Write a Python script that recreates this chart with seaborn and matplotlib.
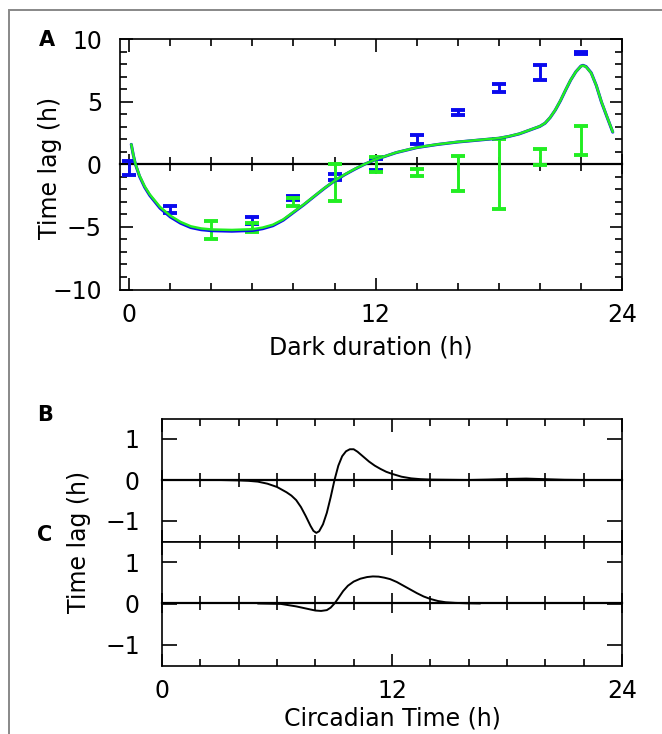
"""Time lag vs dark duration (A) and circadian time (B, C)."""

import matplotlib
matplotlib.use("Agg")
import matplotlib.pyplot as plt
from matplotlib.patches import Rectangle
from matplotlib.ticker import MultipleLocator
import numpy as np
import seaborn as sns

sns.set_theme(style="ticks")
plt.rcParams["font.family"] = ["DejaVu Sans"]
plt.rcParams.update({"text.color": "black", "axes.labelcolor": "black",
                     "xtick.color": "black", "ytick.color": "black"})

# ---- panel A: measured time lags (error bars, low/high) ----
blue_x = [0, 2, 6, 8, 10, 12, 14, 16, 18, 20, 22]
blue_lo = [-0.88, -3.88, -4.75, -2.87, -1.25, -0.48, 1.65, 3.96, 5.77, 6.78, 8.83]
blue_hi = [0.28, -3.3, -4.19, -2.55, -0.74, 0.43, 2.37, 4.36, 6.46, 7.93, 9.0]

green_x = [4, 6, 8, 10, 12, 14, 16, 18, 20, 22]
green_lo = [-5.98, -5.42, -3.3, -2.93, -0.59, -0.93, -2.1, -3.56, -0.08, 0.72]
green_hi = [-4.49, -4.65, -2.7, 0.05, 0.59, -0.35, 0.64, 2.07, 1.25, 3.07]

# ---- panel A: model curves ----
model_x = [0.1, 0.2, 0.3, 0.5, 0.75, 1.0, 1.5, 2.0, 2.5, 3.0, 3.5, 4.0, 5.0,
           6.0, 6.5, 7.0, 7.5, 8.0, 8.5, 9.0, 9.5, 10.0, 10.5, 11.0, 11.5,
           12.0, 13.0, 14.0, 15.0, 16.0, 17.0, 18.0, 18.5, 19.0, 19.5, 20.0,
           20.25, 20.5, 20.75, 21.0, 21.25, 21.5, 21.75, 22.0, 22.1, 22.25,
           22.5, 22.75, 23.0, 23.25, 23.55]
model_green = [1.6, 0.75, 0.05, -0.9, -1.75, -2.4, -3.4, -4.1, -4.6, -4.95,
               -5.12, -5.2, -5.24, -5.18, -5.05, -4.82, -4.4, -3.8, -3.2, -2.55,
               -1.9, -1.3, -0.8, -0.35, 0.05, 0.4, 0.95, 1.35, 1.6, 1.8, 1.95,
               2.1, 2.25, 2.45, 2.75, 3.05, 3.3, 3.75, 4.35, 5.1, 5.95, 6.75,
               7.4, 7.85, 7.9, 7.8, 7.3, 6.3, 5.0, 3.9, 2.6]
model_blue = [1.6, 0.73, 0.02, -0.95, -1.82, -2.48, -3.5, -4.2, -4.7, -5.05,
              -5.22, -5.3, -5.34, -5.28, -5.14, -4.9, -4.46, -3.84, -3.23, -2.57,
              -1.92, -1.32, -0.82, -0.37, 0.04, 0.39, 0.94, 1.34, 1.59, 1.79, 1.94,
              2.09, 2.24, 2.44, 2.74, 3.04, 3.29, 3.74, 4.34, 5.08, 5.93, 6.74,
              7.4, 7.86, 7.92, 7.82, 7.32, 6.3, 4.98, 3.88, 2.58]

# ---- panels B, C: phase-dependent time lag ----
ct_b = [0, 3, 4, 4.5, 5, 5.5, 6, 6.5, 6.75, 7.0, 7.25, 7.5, 7.75, 7.9, 8.05,
        8.2, 8.4, 8.6, 8.8, 9.0, 9.2, 9.4, 9.6, 9.8, 10.0, 10.2, 10.5, 10.8,
        11.1, 11.4, 11.7, 12.0, 12.5, 13.0, 13.5, 14, 16, 17, 18, 19, 20, 21,
        22, 24]
lag_b = [0, 0, -0.01, -0.02, -0.04, -0.09, -0.17, -0.3, -0.38, -0.49, -0.66,
         -0.88, -1.12, -1.24, -1.29, -1.25, -1.08, -0.8, -0.42, 0.0, 0.35, 0.58,
         0.7, 0.75, 0.75, 0.69, 0.57, 0.45, 0.35, 0.27, 0.2, 0.15, 0.08, 0.04,
         0.02, 0.01, 0.0, 0.01, 0.025, 0.035, 0.02, 0.005, 0.0, 0.0]

ct_c = [5, 6.2, 7.0, 7.5, 8.0, 8.3, 8.6, 8.8, 9.0, 9.2, 9.45, 9.7, 10.0, 10.35,
        10.7, 11.0, 11.3, 11.6, 11.9, 12.25, 12.6, 12.95, 13.3, 13.65, 14.0,
        14.4, 14.8, 15.3, 15.9, 16.6]
lag_c = [0, -0.01, -0.07, -0.12, -0.17, -0.18, -0.16, -0.1, 0.0, 0.13, 0.3,
         0.43, 0.53, 0.6, 0.64, 0.655, 0.65, 0.625, 0.59, 0.52, 0.43, 0.34,
         0.25, 0.17, 0.11, 0.06, 0.03, 0.015, 0.005, 0.0]

BLUE = "#0a0aee"
GREEN = "#22ee22"
FS = 17
W, H = 662, 734


def style_axes(ax):
    for sp in ax.spines.values():
        sp.set_visible(True)
        sp.set_linewidth(1.2)
        sp.set_color("black")
    ax.tick_params(which="both", direction="in", top=True, right=True,
                   color="black", width=1.2, labelsize=FS, labelcolor="black")
    ax.tick_params(which="major", length=9)
    ax.tick_params(which="minor", length=5)
    ax.set_xlim(-0.45 if ax.get_label() == "A" else 0, 24)
    ax.xaxis.set_major_locator(MultipleLocator(12))
    ax.xaxis.set_minor_locator(MultipleLocator(2))
    # zero line with crossing ticks
    zero = ax.secondary_xaxis(0.5)
    zero.spines["top"].set_linewidth(1.6)
    zero.spines["top"].set_color("black")
    zero.xaxis.set_major_locator(MultipleLocator(12))
    zero.xaxis.set_minor_locator(MultipleLocator(2))
    zero.tick_params(which="both", direction="inout", labeltop=False,
                     labelbottom=False, width=1.2, color="black")
    zero.tick_params(which="major", length=14)
    zero.tick_params(which="minor", length=10)


def errbars(ax, xs, lo, hi, color):
    lo = np.array(lo)
    hi = np.array(hi)
    mid = (lo + hi) / 2
    ax.errorbar(xs, mid, yerr=(hi - lo) / 2, fmt="none", ecolor=color,
                elinewidth=2.1, capsize=4.8, capthick=2.8, zorder=4)


fig = plt.figure(figsize=(W / 100, H / 100), dpi=100)
fig.patches.append(Rectangle((8.5 / W, -0.1), 1.2, 1 - 9.5 / H + 0.1,
                             transform=fig.transFigure, fill=False,
                             edgecolor="#888888", linewidth=1.4))

# panel A
axA = fig.add_axes([120 / W, 1 - 289.5 / H, 502 / W, 250.2 / H], label="A")
errbars(axA, blue_x, blue_lo, blue_hi, BLUE)
errbars(axA, green_x, green_lo, green_hi, GREEN)
sns.lineplot(x=model_x, y=model_blue, ax=axA, color=BLUE, lw=2.2, zorder=5)
sns.lineplot(x=model_x, y=model_green, ax=axA, color=GREEN, lw=1.8, zorder=6)
style_axes(axA)
axA.set_ylim(-10, 10)
axA.yaxis.set_major_locator(MultipleLocator(5))
axA.yaxis.set_minor_locator(MultipleLocator(1))
axA.tick_params(axis="y", pad=13)
axA.tick_params(axis="x", pad=10)
axA.set_xticks([0, 12, 24], ["0", "12", "24"])
axA.set_yticks([-10, -5, 0, 5, 10], ["\u221210", "\u22125", "0", "5", "10"])
axA.set_xlabel("Dark duration (h)", fontsize=FS, labelpad=6)
axA.set_ylabel("")

# panels B and C
axB = fig.add_axes([162 / W, 1 - 541.5 / H, 460 / W, 123 / H], label="B")
axC = fig.add_axes([162 / W, 1 - 665.5 / H, 460 / W, 124 / H], label="C")
sns.lineplot(x=ct_b, y=lag_b, ax=axB, color="black", lw=1.4, zorder=5)
sns.lineplot(x=ct_c, y=lag_c, ax=axC, color="black", lw=1.4, zorder=5)
for ax in (axB, axC):
    style_axes(ax)
    ax.set_ylim(-1.5, 1.5)
    ax.set_yticks([-1, 0, 1], ["\u22121", "0", "1"])
    ax.tick_params(axis="y", which="major", length=11, pad=16)
    ax.set_ylabel("")
axB.tick_params(axis="x", labelbottom=False)
axC.tick_params(axis="x", pad=10)
axC.set_xticks([0, 12, 24], ["0", "12", "24"])
axC.set_xlabel("Circadian Time (h)", fontsize=FS, labelpad=2)

# y labels and panel letters
fig.text(50 / W, 1 - 167.5 / H, "Time lag (h)", rotation=90, ha="center",
         va="center", fontsize=FS)
fig.text(79 / W, 1 - 541.7 / H, "Time lag (h)", rotation=90, ha="center",
         va="center", fontsize=FS)
for letter, (px, py) in {"A": (47, 40), "B": (45, 415), "C": (45, 535)}.items():
    fig.text(px / W, 1 - py / H, letter, ha="center", va="center",
             fontsize=15, fontweight="bold")

fig.savefig("out.png", dpi=100)
plt.close(fig)
